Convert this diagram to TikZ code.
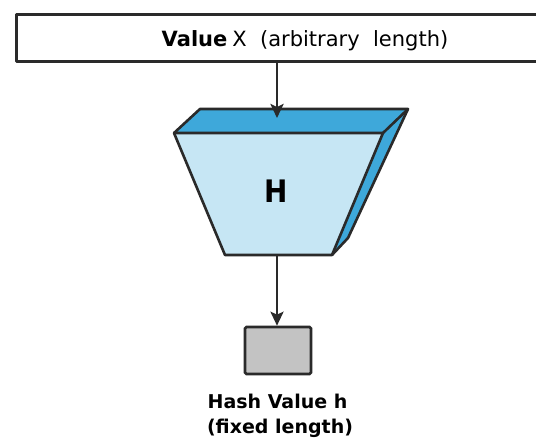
\documentclass[tikz,border=0pt]{standalone}
\usepackage{fontspec}
\setmainfont{DejaVu Sans}
\newfontfamily\narrowfont{DejaVu Sans Condensed}
\usetikzlibrary{arrows.meta}
\definecolor{faceblue}{HTML}{C6E6F4}
\definecolor{edgeblue}{HTML}{3EA8DA}
\definecolor{boxgray}{HTML}{C3C3C3}
\definecolor{inkgray}{HTML}{2A2A2A}
\tikzset{
  flow/.style={draw=inkgray, line width=2.6pt, -{Stealth[length=14pt,width=13pt,inset=3pt]}},
  outline/.style={draw=inkgray, line width=2.6pt, line join=round},
}
\begin{document}
\begin{tikzpicture}[x=1pt,y=-1pt]
\useasboundingbox (0,0) rectangle (536,439);
\fill[white] (0,0) rectangle (536,439);

% input value box (runs off the right edge)
\node[outline, fill=white, minimum width=535pt, minimum height=47pt, anchor=north west, inner sep=0pt] (input) at (15,13) {};
\node[font=\fontsize{21}{24}\selectfont, anchor=base, inner sep=0pt] (inputtext) at (305,46) {\textbf{Value}\kern5pt X\ \ (arbitrary\ \ length)};

% hash function block: top face, side face, front face
\coordinate (ftl) at (174,133);
\coordinate (ftr) at (383,133);
\coordinate (fbr) at (332,255);
\coordinate (fbl) at (225,255);
\coordinate (btl) at (200,109);
\coordinate (btr) at (408,109);
\coordinate (sbr) at (348,238);
\fill[edgeblue] (ftl) -- (btl) -- (btr) -- (ftr) -- cycle;
\fill[edgeblue] (ftr) -- (btr) -- (sbr) -- (fbr) -- cycle;
\fill[faceblue] (ftl) -- (ftr) -- (fbr) -- (fbl) -- cycle;
\draw[outline] (ftl) -- (btl) -- (btr) -- (sbr) -- (fbr) -- (fbl) -- cycle;
\draw[outline] (ftl) -- (ftr) -- (fbr);
\draw[outline] (ftr) -- (btr);
\node[font=\narrowfont\bfseries\fontsize{31}{34}\selectfont, anchor=base, inner sep=0pt] (H) at (276.5,202) {H};
\coordinate (ftop) at (277,118);
\coordinate (fbot) at (277,255);

% output hash value
\node[draw=inkgray, line width=2.6pt, fill=boxgray, minimum width=66pt, minimum height=47pt, inner sep=0pt, rounded corners=1.5pt] (out) at (278,350.5) {};
\node[font=\fontsize{19}{23}\selectfont\bfseries, anchor=base, inner sep=0pt] (outtext) at (277.5,408) {Hash Value h};
\node[font=\fontsize{19}{23}\selectfont\bfseries, anchor=base, inner sep=0pt] (outtext2) at (280,433) {(fixed length)};

% connectors
\draw[flow] (input.south -| ftop) -- (ftop);
\draw[flow] (fbot) -- (out.north -| fbot);
\end{tikzpicture}
\end{document}
